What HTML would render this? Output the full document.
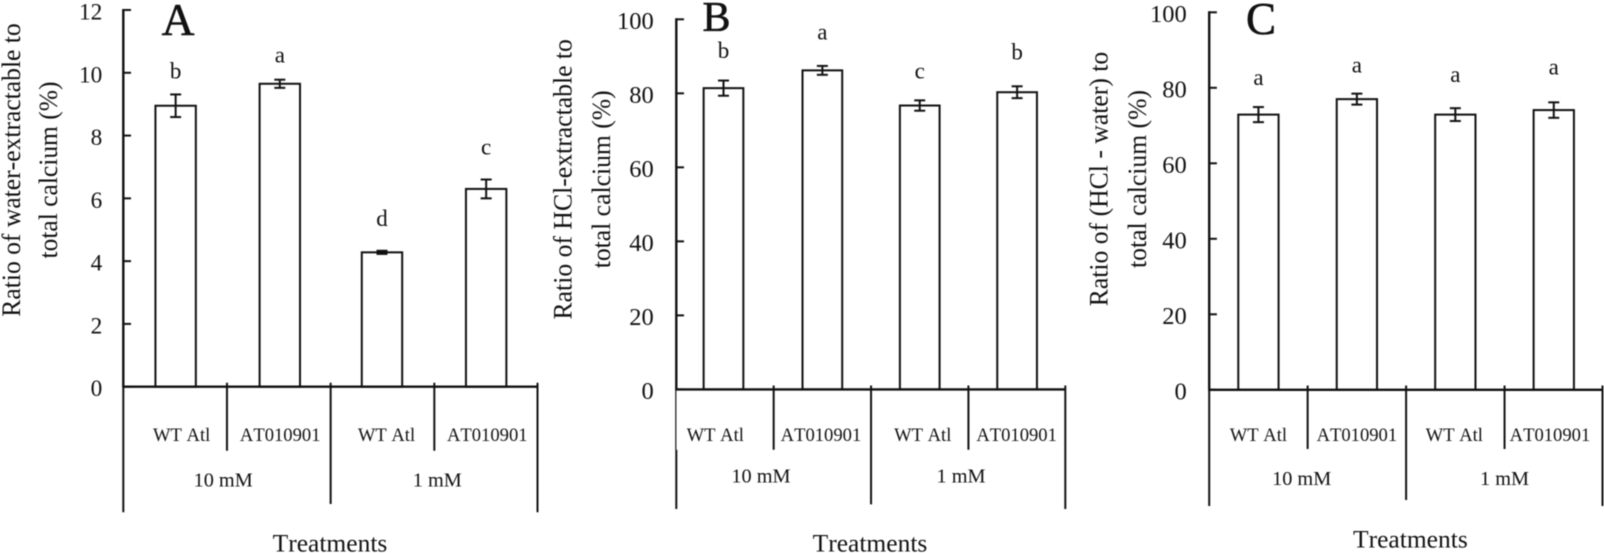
<!DOCTYPE html>
<html lang="en">
<head>
<meta charset="utf-8">
<title>Calcium extractability ratios by treatment</title>
<style>
  html, body { margin: 0; padding: 0; background: #fff; }
  body { width: 1604px; height: 553px; overflow: hidden; }
  svg { display: block; filter: blur(0.4px); }
  text { font-family: "Liberation Serif", serif; fill: #111; font-kerning: none; }
</style>
</head>
<body>
<svg id="figure" xmlns="http://www.w3.org/2000/svg" width="1604" height="553" viewBox="0 0 1604 553"></svg>
<script>
// ----- Data -----
const categories = ['WT Atl', 'AT010901', 'WT Atl', 'AT010901'];
const groups = ['10 mM', '1 mM'];

const ticksA = [0, 2, 4, 6, 8, 10, 12];
const valuesA = [8.95, 9.65, 4.28, 6.3];
const errorsA = [0.36, 0.13, 0.05, 0.3];
const lettersA = ['b', 'a', 'd', 'c'];
const titleA = ['Ratio of water-extractable to', 'total calcium (%)'];

const ticksB = [0, 20, 40, 60, 80, 100];
const valuesB = [81.4, 86.2, 76.7, 80.3];
const errorsB = [2.05, 1.2, 1.4, 1.6];
const lettersB = ['b', 'a', 'c', 'b'];
const titleB = ['Ratio of HCl-extractable to', 'total calcium (%)'];

const ticksC = [0, 20, 40, 60, 80, 100];
const valuesC = [72.9, 77, 72.9, 74.1];
const errorsC = [2, 1.45, 1.7, 2.05];
const lettersC = ['a', 'a', 'a', 'a'];
const titleC = ['Ratio of (HCl - water) to', 'total calcium (%)'];

// ----- Layout (pixels, separate from data) -----
const panels = [
  { id: 'a', panelLetter: 'A', letterX: 178, letterY: 35, letterSize: 45.5, ticks: ticksA, values: valuesA, errors: errorsA, letters: lettersA, title: titleA,
    x0: 123.3, x1: 538, y0: 386.7, yTop: 10, axisBottom: 512.3, midBottom: 504, minorBottom: 450.7, minorTop: 382.7,
    barW: 40.4, barNudge: [0.5, 1, -0.5, 0], tickSize: 23.3, tickGap: 21, letterGaps: [16, 17, 25, 25],
    catNudge: [6.5, 1.4, 4, 1.1], catBase: 441, groupNudge: [-3.8, 3], groupBase: 486.7,
    xTitleX: 330, xTitleBase: 551.5, titleBase: [20, 57], titleCenter: 170, titleLen: [293.4, 177], thinLeft: false },
  { id: 'b', panelLetter: 'B', letterX: 716.5, letterY: 31, letterSize: 42, ticks: ticksB, values: valuesB, errors: errorsB, letters: lettersB, title: titleB,
    x0: 676.3, x1: 1065.8, y0: 389.4, yTop: 19.3, axisBottom: 509, midBottom: 504.4, minorBottom: 449.7, minorTop: 385.5,
    barW: 39.7, barNudge: [-1.5, 0, 0, 0], tickSize: 24.5, tickGap: 22.5, letterGaps: [22.5, 26.4, 21.8, 27],
    catNudge: [-9.7, -1.4, 3, -0.5], catBase: 441, groupNudge: [-12.7, -7.4], groupBase: 482.5,
    xTitleX: 870, xTitleBase: 551.3, titleBase: [571.5, 610], titleCenter: 179.3, titleLen: [280.4, 178], thinLeft: true },
  { id: 'c', panelLetter: 'C', letterX: 1261, letterY: 34, letterSize: 45, ticks: ticksC, values: valuesC, errors: errorsC, letters: lettersC, title: titleC,
    x0: 1209.2, x1: 1603, y0: 389.8, yTop: 12.3, axisBottom: 506, midBottom: 500, minorBottom: 449, minorTop: 385.5,
    barW: 40.3, barNudge: [0, 0, 0, 0], tickSize: 24.5, tickGap: 22.5, letterGaps: [22, 21, 26, 28],
    catNudge: [0, 0, -1, -3.8], catBase: 441, groupNudge: [-6, 0], groupBase: 485,
    xTitleX: 1410.4, xTitleBase: 547.4, titleBase: [1107.5, 1146], titleCenter: 179, titleLen: [254.5, 178], thinLeft: false }
];

const INK = '#111';
const NS = 'http://www.w3.org/2000/svg';
const root = document.getElementById('figure');

function make(tag, parent, attrs, content) {
  const node = document.createElementNS(NS, tag);
  for (const k in attrs) node.setAttribute(k, attrs[k]);
  if (content !== undefined) node.textContent = content;
  parent.appendChild(node);
  return node;
}
function line(parent, x1, y1, x2, y2, w) {
  return make('line', parent, { x1: x1, y1: y1, x2: x2, y2: y2, stroke: INK, 'stroke-width': w });
}

panels.forEach(function (p) {
  const maxTick = p.ticks[p.ticks.length - 1];
  const yScale = function (v) { return p.y0 - (v / maxTick) * (p.y0 - p.yTop); };
  const band = (p.x1 - p.x0) / p.values.length;
  const xEdge = function (i) { return p.x0 + band * i; };
  const xCenter = function (i) { return p.x0 + band * (i + 0.5); };

  const g = make('g', root, {});
  
  

  // y ticks and labels
  p.ticks.forEach(function (t) {
    const tick = line(g, p.x0, yScale(t), p.x0 + 7.7, yScale(t), 2);
    
    
    const label = make('text', g, { x: p.x0 - p.tickGap, y: yScale(t) + 9.5, 'text-anchor': 'end', 'font-size': p.tickSize }, String(t));
    
    
  });

  // bars, error bars, significance letters
  p.values.forEach(function (v, i) {
    const cx = xCenter(i) + p.barNudge[i];
    const bar = make('rect', g, { x: cx - p.barW / 2, y: yScale(v), width: p.barW, height: p.y0 - yScale(v), fill: '#fff', stroke: INK, 'stroke-width': 2 });
    
    

    const hi = yScale(v + p.errors[i]);
    const lo = yScale(v - p.errors[i]);
    const err = make('g', g, {});
    
    
    line(err, cx, hi, cx, lo, 2);
    line(err, cx - 5.5, hi, cx + 5.5, hi, 2);
    line(err, cx - 5.5, lo, cx + 5.5, lo, 2);

    const sig = make('text', g, { x: cx, y: hi - p.letterGaps[i], 'text-anchor': 'middle', 'font-size': 23 }, p.letters[i]);
    
    
  });

  // axes
  const yAxis = line(g, p.x0, p.yTop - 1, p.x0, p.y0, 2.4);
  
  
  const xAxis = line(g, p.x0 - 1, p.y0, p.x1, p.y0, 2.4);
  
  

  // category separators
  if (p.thinLeft) {
    const leftThin = line(g, p.x0 - 0.5, p.y0, p.x0 - 0.5, p.minorBottom, 1.2);
    
    
    const leftThick = line(g, p.x0, p.minorBottom, p.x0, p.axisBottom, 2);
    
    
  } else {
    const leftSep = line(g, p.x0, p.y0, p.x0, p.axisBottom, 2);
    
    
  }
  const rightSep = line(g, p.x1 - 0.5, p.minorTop, p.x1 - 0.5, p.axisBottom, 2);
  
  
  const midSep = line(g, xEdge(2), p.minorTop, xEdge(2), p.midBottom, 2);
  
  
  [1, 3].forEach(function (i) {
    const sep = line(g, xEdge(i), p.minorTop, xEdge(i), p.minorBottom, 2);
    
    
  });

  // category and group labels
  categories.forEach(function (c, i) {
    const t = make('text', g, { x: xCenter(i) + p.catNudge[i], y: p.catBase, 'text-anchor': 'middle', 'font-size': 18.6 }, c);
    
    
  });
  groups.forEach(function (c, i) {
    const t = make('text', g, { x: xEdge(i * 2 + 1) + p.groupNudge[i], y: p.groupBase, 'text-anchor': 'middle', 'font-size': 20.3 }, c);
    
    
  });

  // axis titles
  const xTitle = make('text', g, { x: p.xTitleX, y: p.xTitleBase, 'text-anchor': 'middle', 'font-size': 25.5 }, 'Treatments');
  
  
  p.title.forEach(function (txt, i) {
    const t = make('text', g, {
      x: 0, y: 0, 'text-anchor': 'middle', 'font-size': 26,
      textLength: p.titleLen[i], lengthAdjust: 'spacingAndGlyphs',
      transform: 'translate(' + p.titleBase[i] + ' ' + p.titleCenter + ') rotate(-90)'
    }, txt);
    
    
  });

  // panel letter
  const big = make('text', g, { x: p.letterX, y: p.letterY, 'text-anchor': 'middle', 'font-size': p.letterSize, stroke: INK, 'stroke-width': 0.6 }, p.panelLetter);
  
  
});
</script>
</body>
</html>
